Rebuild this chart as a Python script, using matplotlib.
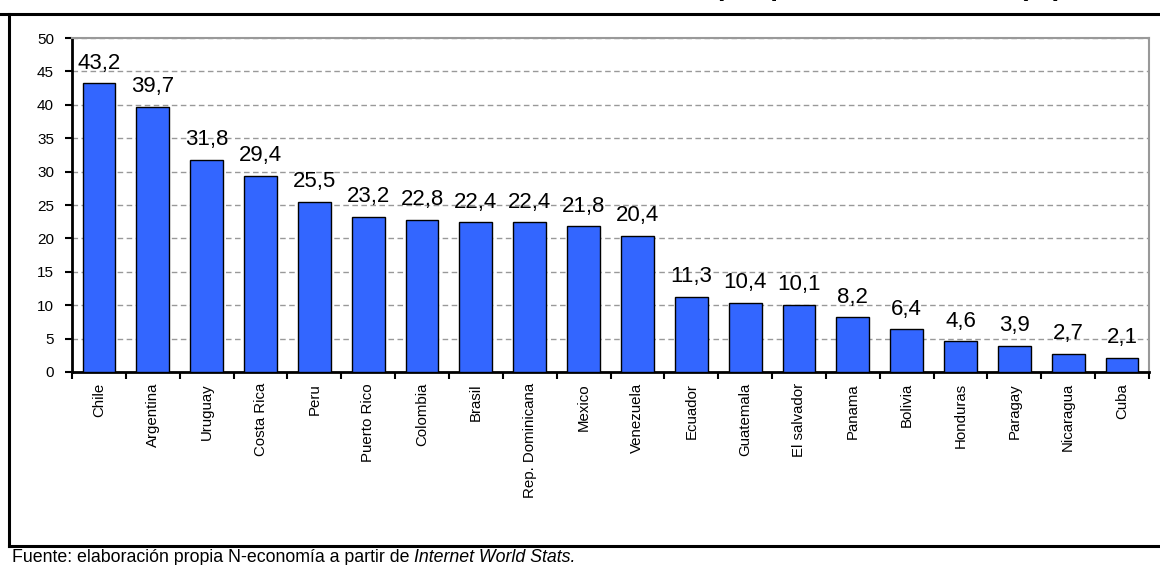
import matplotlib.pyplot as plt
from matplotlib.lines import Line2D
import numpy as np

plt.rcParams['font.family'] = ['Liberation Sans', 'DejaVu Sans']

paises = ["Chile", "Argentina", "Uruguay", "Costa Rica", "Peru", "Puerto Rico",
          "Colombia", "Brasil", "Rep. Dominicana", "Mexico", "Venezuela", "Ecuador",
          "Guatemala", "El salvador", "Panama", "Bolivia", "Honduras", "Paragay",
          "Nicaragua", "Cuba"]
penetracion = [43.2, 39.7, 31.8, 29.4, 25.5, 23.2, 22.8, 22.4, 22.4, 21.8, 20.4,
               11.3, 10.4, 10.1, 8.2, 6.4, 4.6, 3.9, 2.7, 2.1]
yticks = [0, 5, 10, 15, 20, 25, 30, 35, 40, 45, 50]

fig = plt.figure(figsize=(11.6, 5.65), dpi=100)
ax = fig.add_axes([0.0621, 0.3416, 0.9284, 0.5911])

x = np.arange(len(paises)) + 0.5
bars = ax.bar(x, penetracion, width=0.61, color="#3366FF", edgecolor="black",
              linewidth=1, zorder=3)
for xi, v in zip(x, penetracion):
    ax.annotate(f"{v:.1f}".replace(".", ","), (xi, v), xytext=(0, 7),
                textcoords="offset points", ha="center", va="bottom", fontsize=16)

ax.set_xlim(0, len(paises))
ax.set_ylim(0, 50)
ax.set_yticks(yticks)
ax.tick_params(axis="y", labelsize=11, direction="out", length=5, width=1.5, pad=8)
ax.set_xticks(np.arange(len(paises) + 1))
ax.set_xticklabels([])
ax.set_xticks(x, minor=True)
ax.set_xticklabels(paises, minor=True, rotation=90, fontsize=10.8)
ax.tick_params(axis="x", which="major", direction="out", length=5, width=1.5)
ax.tick_params(axis="x", which="minor", length=0, pad=8)
ax.grid(axis="y", color="#999999", linestyle=(0, (4, 2.5)), linewidth=1, zorder=0)

ax.spines["left"].set_linewidth(2)
ax.spines["bottom"].set_linewidth(2)
ax.spines["top"].set_color("#999999")
ax.spines["right"].set_color("#999999")
ax.spines["top"].set_linewidth(1.5)
ax.spines["right"].set_linewidth(1.5)

# marco exterior
top_y = 1 - 13.5 / 565
bot_y = 1 - 546 / 565
left_x = 8.5 / 1160
fig.add_artist(Line2D([0, 1], [top_y, top_y], color="black", lw=2.2, transform=fig.transFigure))
fig.add_artist(Line2D([left_x, left_x], [bot_y, top_y], color="black", lw=2.2, transform=fig.transFigure))
fig.add_artist(Line2D([left_x, 1], [bot_y, bot_y], color="black", lw=2.2, transform=fig.transFigure))

# titulo (en el original queda cortado por arriba, solo asoman los descendentes)
fig.text(1062 / 1160, 1 + 5 / 565,
         "Usuarios de Internet en América Latina por población en 2008 (%)",
         ha="right", va="baseline", fontsize=20, fontweight="bold")

fuente = fig.text(12 / 1160, 1 - 562 / 565, "Fuente: elaboración propia N-economía a partir de ",
                  ha="left", va="baseline", fontsize=12.8)
fig.canvas.draw()
bb = fuente.get_window_extent().transformed(fig.transFigure.inverted())
fig.text(bb.x1, 1 - 562 / 565, "Internet World Stats.",
         ha="left", va="baseline", fontsize=12.8, style="italic")

plt.savefig("out.png", dpi=100)
